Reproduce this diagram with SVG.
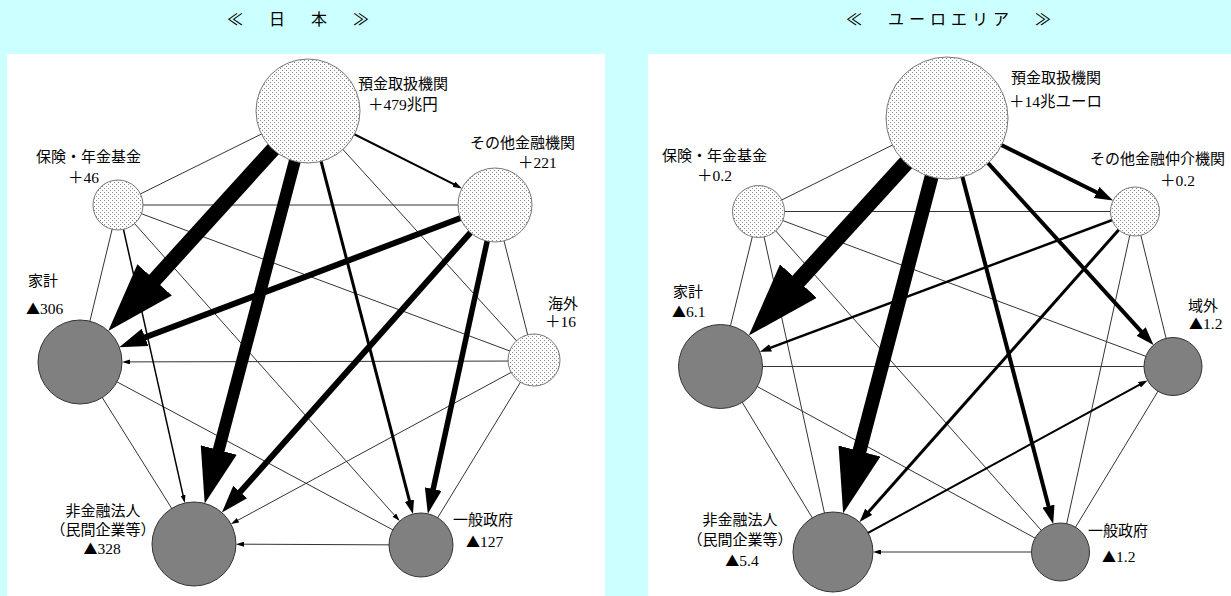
<svg xmlns="http://www.w3.org/2000/svg" width="1231" height="596" viewBox="0 0 1231 596">
<style>
.bg{fill:#CCFFFF}
.panel{fill:#FFFFFF}
.t{stroke:#333;stroke-width:1;fill:none}
.k{stroke:#000;fill:none}
.dot{fill:url(#dots);stroke:#777;stroke-width:1}
.neg{fill:#808080;stroke:#333;stroke-width:1}
.jp{font-family:"Noto Sans CJK JP",sans-serif;font-size:15px;fill:#000}
.num{font-family:"Liberation Serif","Noto Sans CJK JP",serif;font-size:15.5px;fill:#000}
.tri{font-family:"Noto Sans CJK JP",sans-serif;font-size:14px}
.title{font-family:"Noto Sans CJK JP",sans-serif;font-size:16px;letter-spacing:5px;fill:#000}
.mid{text-anchor:middle}
</style>
<defs>
<pattern id="dots" width="4" height="4" patternUnits="userSpaceOnUse">
<rect width="4" height="4" fill="#FFFFFF"/>
<rect x="0" y="0" width="1" height="1" fill="#888"/>
<rect x="2" y="2" width="1" height="1" fill="#888"/>
</pattern>
<marker id="ah" viewBox="0 -1.55 4.6 3.1" markerWidth="4.6" markerHeight="3.1" refX="2.2" refY="0" orient="auto" markerUnits="strokeWidth">
<path d="M0,-1.55L4.6,0L0,1.55z" fill="#000"/>
</marker>
<marker id="as" viewBox="0 -2.5 8 5" markerWidth="8" markerHeight="5" refX="5" refY="0" orient="auto" markerUnits="userSpaceOnUse">
<path d="M0,-2.5L8,0L0,2.5z" fill="#000"/>
</marker>
</defs>

<rect class="bg" x="0" y="0" width="1231" height="596"/>
<rect class="panel" x="7" y="54" width="598" height="542"/>
<rect class="panel" x="648" y="54" width="583" height="542"/>

<text class="title" x="227" y="25">≪　日　本　≫</text>
<text class="title" x="846" y="25">≪　ユーロエリア　≫</text>

<g id="connectors">
<!-- Japan plain -->
<line class="t" x1="308" y1="111" x2="118" y2="205"/>
<line class="t" x1="308" y1="111" x2="534" y2="360"/>
<line class="t" x1="118" y1="205" x2="80" y2="362"/>
<line class="t" x1="118" y1="205" x2="495" y2="205"/>
<line class="t" x1="118" y1="205" x2="534" y2="360"/>
<line class="t" x1="80" y1="362" x2="194" y2="544"/>
<line class="t" x1="80" y1="362" x2="421" y2="545"/>
<line class="t" x1="534" y1="360" x2="421" y2="545"/>
<line class="t" x1="495" y1="205" x2="534" y2="360"/>
<!-- Japan thin arrows -->
<line class="t" x1="534" y1="361" x2="125" y2="361.9" marker-end="url(#as)"/>
<line class="t" x1="534" y1="360" x2="233.58" y2="522.58" marker-end="url(#as)"/>
<line class="t" x1="421" y1="545" x2="239" y2="544.17" marker-end="url(#as)"/>
<line class="t" x1="118" y1="205" x2="397.71" y2="518.87" marker-end="url(#as)"/>
<line class="k" stroke-width="1.5" x1="118" y1="205" x2="184.15" y2="500.09" marker-end="url(#as)"/>
<!-- Japan thick arrows -->
<line class="k" stroke-width="2" x1="308" y1="111" x2="457.65" y2="186.22" marker-end="url(#ah)"/>
<line class="k" stroke-width="3" x1="308" y1="111" x2="411.13" y2="507.06" marker-end="url(#ah)"/>
<line class="k" stroke-width="6" x1="495" y1="205" x2="132.75" y2="342.05" marker-end="url(#ah)"/>
<line class="k" stroke-width="6" x1="495" y1="205" x2="231.44" y2="501.82" marker-end="url(#ah)"/>
<line class="k" stroke-width="5.5" x1="495" y1="205" x2="430.62" y2="500.83" marker-end="url(#ah)"/>
<line class="k" stroke-width="12" x1="308" y1="111" x2="212.02" y2="475.53" marker-end="url(#ah)"/>
<line class="k" stroke-width="15" x1="308" y1="111" x2="132.45" y2="304.26" marker-end="url(#ah)"/>

<!-- Euro plain -->
<line class="t" x1="947" y1="118" x2="758.5" y2="211.5"/>
<line class="t" x1="1135" y1="211.5" x2="1060.5" y2="552"/>
<line class="t" x1="1135" y1="211.5" x2="1173" y2="366.5"/>
<line class="t" x1="1135" y1="211.5" x2="758.5" y2="211.5"/>
<line class="t" x1="758.5" y1="211.5" x2="1173" y2="366.5"/>
<line class="t" x1="758.5" y1="211.5" x2="1060.5" y2="552"/>
<line class="t" x1="758.5" y1="211.5" x2="833" y2="552"/>
<line class="t" x1="758.5" y1="211.5" x2="720.5" y2="366.5"/>
<line class="t" x1="720.5" y1="366.5" x2="1173" y2="366.5"/>
<line class="t" x1="720.5" y1="366.5" x2="1060.5" y2="552"/>
<line class="t" x1="720.5" y1="366.5" x2="833" y2="552"/>
<line class="t" x1="1173" y1="366.5" x2="1060.5" y2="552"/>
<!-- Euro thin arrows -->
<line class="t" x1="1060.5" y1="552" x2="876" y2="552" marker-end="url(#as)"/>
<!-- Euro thick arrows -->
<line class="k" stroke-width="2" x1="833" y1="552" x2="1143.33" y2="382.69" marker-end="url(#ah)"/>
<line class="k" stroke-width="2.5" x1="1135" y1="211.5" x2="765.46" y2="349.69" marker-end="url(#ah)"/>
<line class="k" stroke-width="3" x1="1135" y1="211.5" x2="864.32" y2="516.68" marker-end="url(#ah)"/>
<line class="k" stroke-width="4" x1="947" y1="118" x2="1050.73" y2="514.65" marker-end="url(#ah)"/>
<line class="k" stroke-width="4" x1="947" y1="118" x2="1147.03" y2="337.95" marker-end="url(#ah)"/>
<line class="k" stroke-width="4" x1="947" y1="118" x2="1104.46" y2="196.32" marker-end="url(#ah)"/>
<line class="k" stroke-width="14" x1="947" y1="118" x2="851.70" y2="480.81" marker-end="url(#ah)"/>
<line class="k" stroke-width="16" x1="947" y1="118" x2="774.67" y2="307.08" marker-end="url(#ah)"/>
</g>

<!-- Japan nodes -->
<g id="jp-deposit">
<circle class="dot" cx="308" cy="111" r="52"/>
<text class="jp" x="358" y="89">預金取扱機関</text>
<text class="num" x="368" y="110">＋479兆円</text>
</g>
<g id="jp-otherfin">
<circle class="dot" cx="495" cy="205" r="37"/>
<text class="jp" x="470" y="148">その他金融機関</text>
<text class="num" x="518" y="168">＋221</text>
</g>
<g id="jp-overseas">
<circle class="dot" cx="534" cy="360" r="26"/>
<text class="jp" x="548" y="309">海外</text>
<text class="num" x="545" y="327">＋16</text>
</g>
<g id="jp-gov">
<circle class="neg" cx="421" cy="545" r="32"/>
<text class="jp" x="453" y="525">一般政府</text>
<text class="num" x="466" y="547"><tspan class="tri">▲</tspan>127</text>
</g>
<g id="jp-nonfin">
<circle class="neg" cx="194" cy="544" r="42"/>
<text class="jp mid" x="103" y="516">非金融法人</text>
<text class="jp mid" x="103" y="535">（民間企業等）</text>
<text class="num mid" x="102" y="554"><tspan class="tri">▲</tspan>328</text>
</g>
<g id="jp-household">
<circle class="neg" cx="80" cy="362" r="42"/>
<text class="jp" x="28" y="286">家計</text>
<text class="num" x="26" y="314"><tspan class="tri">▲</tspan>306</text>
</g>
<g id="jp-insurance">
<circle class="dot" cx="118" cy="205" r="25"/>
<text class="jp" x="36" y="162">保険・年金基金</text>
<text class="num" x="68" y="183">＋46</text>
</g>

<!-- Euro nodes -->
<g id="eu-deposit">
<circle class="dot" cx="947" cy="118" r="61"/>
<text class="jp" x="1011" y="83">預金取扱機関</text>
<text class="num" x="1009" y="107">＋14兆ユーロ</text>
</g>
<g id="eu-otherfin">
<circle class="dot" cx="1135" cy="211.5" r="24.5"/>
<text class="jp" x="1090" y="164">その他金融仲介機関</text>
<text class="num" x="1160" y="186">＋0.2</text>
</g>
<g id="eu-outside">
<circle class="neg" cx="1173" cy="366.5" r="29"/>
<text class="jp" x="1188" y="311">域外</text>
<text class="num" x="1189" y="329"><tspan class="tri">▲</tspan>1.2</text>
</g>
<g id="eu-gov">
<circle class="neg" cx="1060.5" cy="552" r="29"/>
<text class="jp" x="1088" y="536">一般政府</text>
<text class="num" x="1102" y="562"><tspan class="tri">▲</tspan>1.2</text>
</g>
<g id="eu-nonfin">
<circle class="neg" cx="833" cy="552" r="40"/>
<text class="jp mid" x="740" y="525">非金融法人</text>
<text class="jp mid" x="740" y="545">（民間企業等）</text>
<text class="num mid" x="742" y="566"><tspan class="tri">▲</tspan>5.4</text>
</g>
<g id="eu-household">
<circle class="neg" cx="720.5" cy="366.5" r="42"/>
<text class="jp" x="673" y="297">家計</text>
<text class="num" x="672" y="317"><tspan class="tri">▲</tspan>6.1</text>
</g>
<g id="eu-insurance">
<circle class="dot" cx="758.5" cy="211.5" r="26"/>
<text class="jp" x="662" y="161">保険・年金基金</text>
<text class="num" x="697" y="181">＋0.2</text>
</g>
</svg>
